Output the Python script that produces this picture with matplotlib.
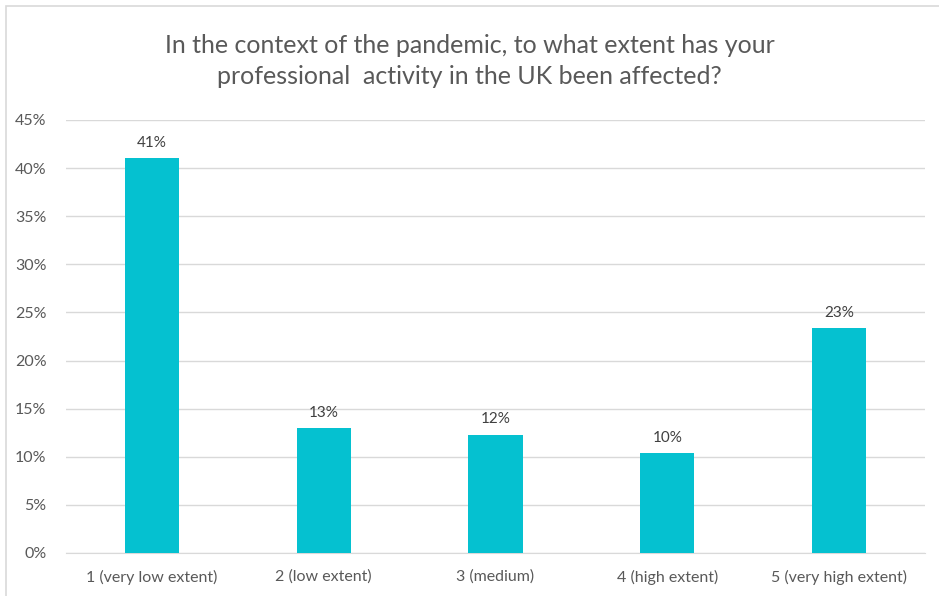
import matplotlib.pyplot as plt
from matplotlib.patches import Rectangle
from matplotlib.ticker import FuncFormatter

categories = ["1 (very low extent)", "2 (low extent)", "3 (medium)",
              "4 (high extent)", "5 (very high extent)"]
shares = [0.410, 0.130, 0.123, 0.104, 0.234]
title = "In the context of the pandemic, to what extent has your\nprofessional  activity in the UK been affected?"

plt.rcParams['font.family'] = ['Lato', 'DejaVu Sans']

fig = plt.figure(figsize=(9.39, 5.96), dpi=100)
ax = fig.add_axes([66 / 939, 1 - 553 / 596, 859 / 939, 433 / 596])

# outer chart frame, running off the right and bottom edge
fig.patches.append(Rectangle((6 / 939, -0.1), 1.2, 1 - 6 / 596 + 0.1,
                             transform=fig.transFigure, fill=False,
                             edgecolor="#D9D9D9", linewidth=1.2))

x = range(len(categories))
bars = ax.bar(x, shares, width=0.315, color="#05C1D0", zorder=3)

for b, v in zip(bars, shares):
    ax.annotate(f"{v * 100:.0f}%", (b.get_x() + b.get_width() / 2, v),
                xytext=(0, 6), textcoords="offset points",
                ha="center", va="bottom", fontsize=11, color="#404040")

ax.set_xlim(-0.5, len(categories) - 0.5)
ax.set_ylim(0, 0.45)
ax.set_yticks([i * 0.05 for i in range(10)])
ax.yaxis.set_major_formatter(FuncFormatter(lambda v, _: f"{v * 100:.0f}%"))
ax.set_xticks(list(x))
ax.set_xticklabels(categories)
ax.tick_params(axis="both", length=0, labelsize=11.5, labelcolor="#595959")
ax.tick_params(axis="x", pad=12)
ax.tick_params(axis="y", pad=14)

ax.grid(axis="y", color="#D9D9D9", linewidth=1, zorder=0)
for s in ["top", "right", "left"]:
    ax.spines[s].set_visible(False)
ax.spines["bottom"].set_color("#D9D9D9")

fig.text(0.5, 1 - 61 / 596, title, ha="center", va="center",
         fontsize=18, color="#595959", linespacing=1.45)

fig.savefig("out.png", dpi=100)
